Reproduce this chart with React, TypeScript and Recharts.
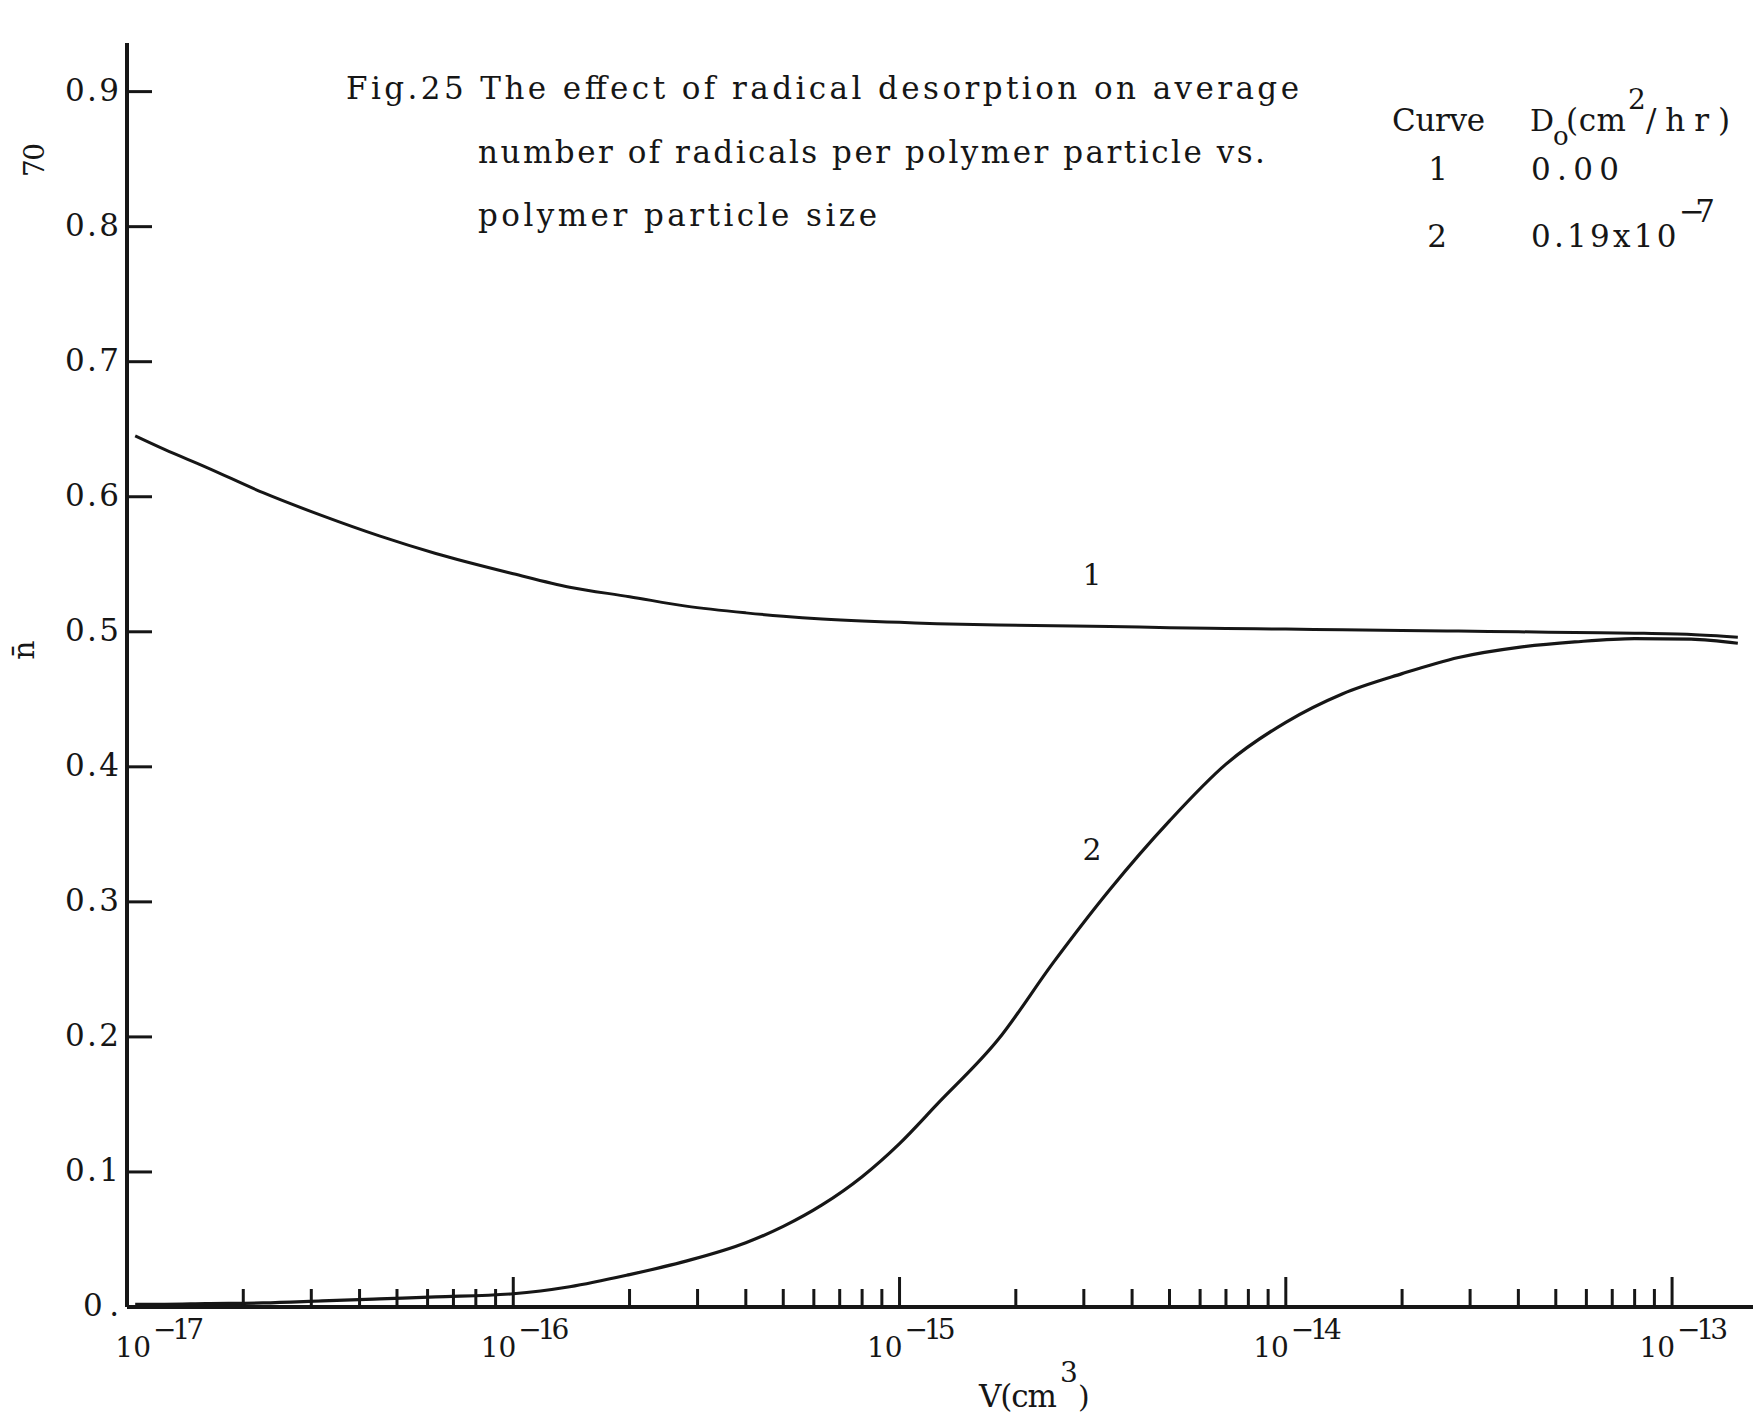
import { LineChart, Line, XAxis, YAxis } from 'recharts'

const WIDTH = 1756
const HEIGHT = 1421
const INK = '#161616'
const TYPE = '"DejaVu Serif", "Liberation Serif", serif'

// particle volume V (cm^3), sampled evenly along the log axis
const volume = [
  1.05e-17, 1.25e-17, 1.6e-17, 2.25e-17, 3.2e-17, 4.5e-17, 6.3e-17,
  1e-16, 1.4e-16, 2e-16, 2.8e-16, 4e-16, 5e-16, 6.3e-16, 8e-16,
  1e-15, 1.25e-15, 1.8e-15, 2.5e-15, 3.5e-15, 5e-15, 7e-15,
  1e-14, 1.4e-14, 2e-14, 2.8e-14, 4e-14, 5.6e-14, 8e-14,
  1.12e-13, 1.48e-13,
]

// curve 1, Do = 0.00
const nBarNoDesorption = [
  0.645, 0.635, 0.622, 0.603, 0.586, 0.571, 0.558,
  0.543, 0.533, 0.526, 0.519, 0.514, 0.5115, 0.5095, 0.508,
  0.507, 0.506, 0.505, 0.5045, 0.504, 0.503, 0.5025,
  0.502, 0.5015, 0.501, 0.5005, 0.5, 0.4995, 0.499,
  0.498, 0.496,
]

// curve 2, Do = 0.19x10^-7 cm^2/hr
const nBarDesorption = [
  0.002, 0.002, 0.0025, 0.003, 0.0045, 0.006, 0.0075,
  0.0098, 0.015, 0.024, 0.034, 0.0476, 0.0597, 0.0756, 0.0965,
  0.121, 0.15, 0.198, 0.255, 0.309, 0.36, 0.402,
  0.433, 0.454, 0.469, 0.481, 0.4885, 0.4925, 0.495,
  0.4945, 0.4915,
]

const decades = [-17, -16, -15, -14, -13]
const mantissas = [1, 2, 3, 4, 5, 6, 7, 8, 9]
const nTicks = [0, 0.1, 0.2, 0.3, 0.4, 0.5, 0.6, 0.7, 0.8, 0.9]
const nTickLabels = ['0.', '0.1', '0.2', '0.3', '0.4', '0.5', '0.6', '0.7', '0.8', '0.9']

const rows = volume.map((v, i) => ({
  v,
  c1: nBarNoDesorption[i],
  c2: nBarDesorption[i],
}))

// every 1..9 x 10^n up to the last decade
const vTicks = decades.flatMap((d, i) =>
  i === decades.length - 1 ? [Number(`1e${d}`)] : mantissas.map((m) => Number(`${m}e${d}`))
)

// typewriter-style text: a fixed pitch per character spreads the serif face out evenly
function Type({ x, y, size = 31, anchor = 'start', pitch, rotate, children }: any) {
  const turn = rotate ? ` rotate(${rotate})` : ''
  const len = pitch ? String(children).length * pitch : undefined
  return (
    <text
      transform={`translate(${x} ${y})${turn}`}
      fontFamily={TYPE}
      fontSize={size}
      textAnchor={anchor}
      fill={INK}
      textLength={len}
      lengthAdjust={len ? 'spacing' : undefined}
    >
      {children}
    </text>
  )
}

function VTick({ x, y, payload }: any) {
  const exp = Math.log10(payload.value)
  const major = Math.abs(exp - Math.round(exp)) < 1e-9
  const first = payload.value === vTicks[0]
  const end = x + (first ? 24 : 3)
  return (
    <g>
      {!first && (
        <line x1={x} y1={y} x2={x} y2={y - (major ? 30 : 18)} stroke={INK} strokeWidth={3} />
      )}
      {major && (
        <>
          <Type x={end} y={y + 50} size={28} anchor="end">10</Type>
          <Type x={end + 2} y={y + 32} size={28} pitch={17}>{`\u2212${-Math.round(exp)}`}</Type>
        </>
      )}
    </g>
  )
}

function NTick({ x, y, payload }: any) {
  const label = nTickLabels[nTicks.indexOf(payload.value)]
  return (
    <g>
      {payload.value > 0 && (
        <line x1={x} y1={y} x2={x + 25} y2={y} stroke={INK} strokeWidth={3} />
      )}
      <Type x={x - 8} y={y + 9} size={31} anchor="end" pitch={18}>{label}</Type>
    </g>
  )
}

export default function App() {
  return (
    <div style={{ position: 'absolute', left: 0, top: 0, width: WIDTH, height: HEIGHT, background: '#fff' }}>
      <LineChart
        width={WIDTH}
        height={HEIGHT}
        data={rows}
        margin={{ top: 43, right: 3, bottom: 54, left: 67 }}
      >
        <XAxis
          dataKey="v"
          type="number"
          scale="log"
          domain={[1e-17, 1.62e-13]}
          allowDataOverflow
          ticks={vTicks}
          interval={0}
          tickSize={0}
          tickMargin={0}
          tickLine={false}
          axisLine={{ stroke: INK, strokeWidth: 4 }}
          tick={<VTick />}
          height={60}
        />
        <YAxis
          type="number"
          domain={[0, 0.936]}
          allowDataOverflow
          ticks={nTicks}
          interval={0}
          tickSize={0}
          tickMargin={0}
          tickLine={false}
          axisLine={{ stroke: INK, strokeWidth: 4 }}
          tick={<NTick />}
          width={60}
        />
        <Line
          type="monotone"
          dataKey="c1"
          stroke={INK}
          strokeWidth={3}
          dot={false}
          activeDot={false}
          isAnimationActive={false}
        />
        <Line
          type="monotone"
          dataKey="c2"
          stroke={INK}
          strokeWidth={3.2}
          dot={false}
          activeDot={false}
          isAnimationActive={false}
        />
      </LineChart>

      <svg
        width={WIDTH}
        height={HEIGHT}
        style={{ position: 'absolute', left: 0, top: 0, pointerEvents: 'none' }}
      >
        <Type x={44} y={160} size={28} anchor="middle" rotate={-90} pitch={17}>70</Type>
        <Type x={34} y={650} size={30} anchor="middle" rotate={-90}>n̄</Type>

        <Type x={346} y={99} pitch={19.06}>Fig.25 The effect of radical desorption on average</Type>
        <Type x={478} y={163} pitch={18.3}>number of radicals per polymer particle vs.</Type>
        <Type x={478} y={226} pitch={19}>polymer particle size</Type>

        <Type x={1392} y={131} pitch={18.6}>Curve</Type>
        <Type x={1530} y={131} size={30}>D</Type>
        <Type x={1553} y={145} size={26}>o</Type>
        <Type x={1566} y={131} pitch={20}>(cm</Type>
        <Type x={1628} y={109} size={28}>2</Type>
        <Type x={1646} y={131} pitch={21}>/hr)</Type>
        <Type x={1438} y={180} anchor="middle">1</Type>
        <Type x={1531} y={180} pitch={22}>0.00</Type>
        <Type x={1437} y={247} anchor="middle">2</Type>
        <Type x={1531} y={247} pitch={20.8}>0.19x10</Type>
        <Type x={1679} y={222} pitch={18}>{'\u22127'}</Type>

        <Type x={1092} y={585} size={30} anchor="middle">1</Type>
        <Type x={1092} y={860} size={30} anchor="middle">2</Type>

        <Type x={979} y={1407} pitch={19.5}>V(cm</Type>
        <Type x={1060} y={1382} size={28}>3</Type>
        <Type x={1078} y={1407} size={30}>)</Type>
      </svg>
    </div>
  )
}
